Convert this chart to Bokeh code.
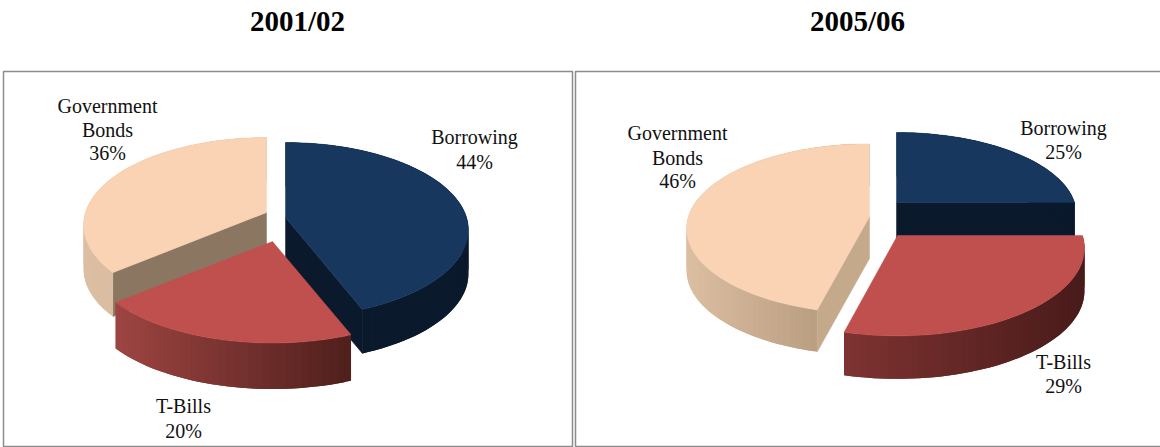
from math import cos, sin, radians

from bokeh.core.properties import value
from bokeh.embed import file_html
from bokeh.models import ColumnDataSource, Range1d
from bokeh.plotting import figure
from bokeh.resources import INLINE

# Funding shares in percent
categories = ["Borrowing", "T-Bills", "Government Bonds"]
shares_2001 = [44, 20, 36]
shares_2005 = [25, 29, 46]
titles = ["2001/02", "2005/06"]

# Drawing styles
TOP_BLUE, SIDE_BLUE = "#17375e", "#0a192b"
TOP_RED = "#c0504d"
TOP_PEACH = "#f9d3b4"
TILT = 0.143     # perspective strength of the disc
FONT = value("Liberation Serif")


def project(theta, radius, flat):
    """Screen offset of a rim point, theta clockwise from the back of the disc."""
    t = radians(theta)
    s = 1 / (1 + TILT * cos(t))
    return radius * s * sin(t), -flat * s * cos(t)


def lerp_colour(a, b, f):
    ca = [int(a[i:i + 2], 16) for i in (1, 3, 5)]
    cb = [int(b[i:i + 2], 16) for i in (1, 3, 5)]
    return "#%02x%02x%02x" % tuple(round(x + (y - x) * f) for x, y in zip(ca, cb))


def draw_slice(p, start, end, apex, radius, flat, depth, top, side, cut):
    ax, ay = apex
    steps = max(8, int((end - start) / 2))
    angles = [start + (end - start) * i / steps for i in range(steps + 1)]
    rim = [project(a, radius, flat) for a in angles]
    xs = [ax + r[0] for r in rim]
    ys = [ay + r[1] for r in rim]

    # exposed cut faces along the straight edges
    edges = []
    if sin(radians(start)) < -1e-9:
        edges.append(0)
    if sin(radians(end)) > 1e-9:
        edges.append(-1)
    for e in edges:
        p.patch([ax, xs[e], xs[e], ax], [ay, ys[e], ys[e] + depth, ay + depth],
                fill_color=cut, line_color=cut, line_width=0.5)

    # outer wall, shaded left to right; each strip runs under its neighbour so no seams show
    lo, hi = min(xs), max(xs)
    strips = dict(x=[], y=[], c=[])
    for i in range(steps):
        j = min(i + 2, steps)
        mid = (xs[i] + xs[i + 1]) / 2
        strips["x"].append([xs[i], xs[i + 1], xs[j], xs[j], xs[i + 1], xs[i]])
        strips["y"].append([ys[i], ys[i + 1], ys[j], ys[j] + depth, ys[i + 1] + depth, ys[i] + depth])
        strips["c"].append(lerp_colour(side[0], side[1], (mid - lo) / (hi - lo)))
    p.patches("x", "y", source=ColumnDataSource(strips), fill_color="c", line_color=None)

    # top face
    p.patch([ax] + xs, [ay] + ys, fill_color=top, line_color=top, line_width=0.5)


def draw_pie(p, shares, layout):
    bounds = [0]
    for v in shares:
        bounds.append(bounds[-1] + v * 3.6)
    for idx in (2, 0, 1):  # back to front
        s = layout[idx]
        draw_slice(p, bounds[idx], bounds[idx + 1], s["apex"], s["radius"], s["flat"], s["depth"],
                   s["top"], s["side"], s["cut"])


def draw_labels(p, rows):
    p.text([r[1] for r in rows], [r[2] for r in rows], text=[r[0] for r in rows],
           text_font=FONT, text_font_size="20px", text_color="#111111",
           text_align="center", text_baseline="middle")


p = figure(width=1160, height=447, output_backend="svg", toolbar_location=None,
           x_range=Range1d(0, 1160), y_range=Range1d(447, 0), min_border=0,
           x_axis_location=None, y_axis_location=None, outline_line_color=None)
p.grid.visible = False

# panel frames
p.quad(left=[3, 575], right=[572, 1161], top=[71, 71], bottom=[446, 446],
       fill_color="white", line_color="#8c8c8c", line_width=1.5)

# panel titles
p.text([297, 857], [20, 20], text=titles, text_font=FONT, text_font_size="29px",
       text_font_style="bold", text_color="black", text_align="center", text_baseline="middle")

layout_2001 = [
    dict(apex=(285, 217), radius=181, flat=85.7, depth=44, top=TOP_BLUE,
         side=(SIDE_BLUE, SIDE_BLUE), cut=SIDE_BLUE),
    dict(apex=(272, 241), radius=185, flat=87, depth=46, top=TOP_RED,
         side=("#9e4542", "#4f1f1c"), cut="#4f1f1c"),
    dict(apex=(266, 212), radius=181, flat=85.7, depth=44, top=TOP_PEACH,
         side=("#dcbfa3", "#d4b498"), cut="#8b7661"),
]
layout_2005 = [
    dict(apex=(896, 202), radius=178, flat=80, depth=44, top=TOP_BLUE,
         side=(SIDE_BLUE, SIDE_BLUE), cut=SIDE_BLUE),
    dict(apex=(897, 235), radius=185, flat=86, depth=43, top=TOP_RED,
         side=("#7e3331", "#481b1a"), cut="#481b1a"),
    dict(apex=(869, 216), radius=181, flat=83, depth=42, top=TOP_PEACH,
         side=("#dcbea1", "#ad9275"), cut="#c4a98b"),
]
draw_pie(p, shares_2001, layout_2001)
draw_pie(p, shares_2005, layout_2005)

gov_first, gov_second = categories[2].split(" ")
draw_labels(p, [
    (gov_first, 107, 105), (gov_second, 107, 129), (f"{shares_2001[2]}%", 107, 152),
    (categories[0], 474, 136), (f"{shares_2001[0]}%", 474, 161),
    (categories[1], 183, 405), (f"{shares_2001[1]}%", 183, 430),
    (gov_first, 677, 132), (gov_second, 677, 157), (f"{shares_2005[2]}%", 677, 180),
    (categories[0], 1063, 127), (f"{shares_2005[0]}%", 1063, 151),
    (categories[1], 1063, 361), (f"{shares_2005[1]}%", 1063, 385),
])

open("out.html", "w").write(file_html(p, INLINE))
